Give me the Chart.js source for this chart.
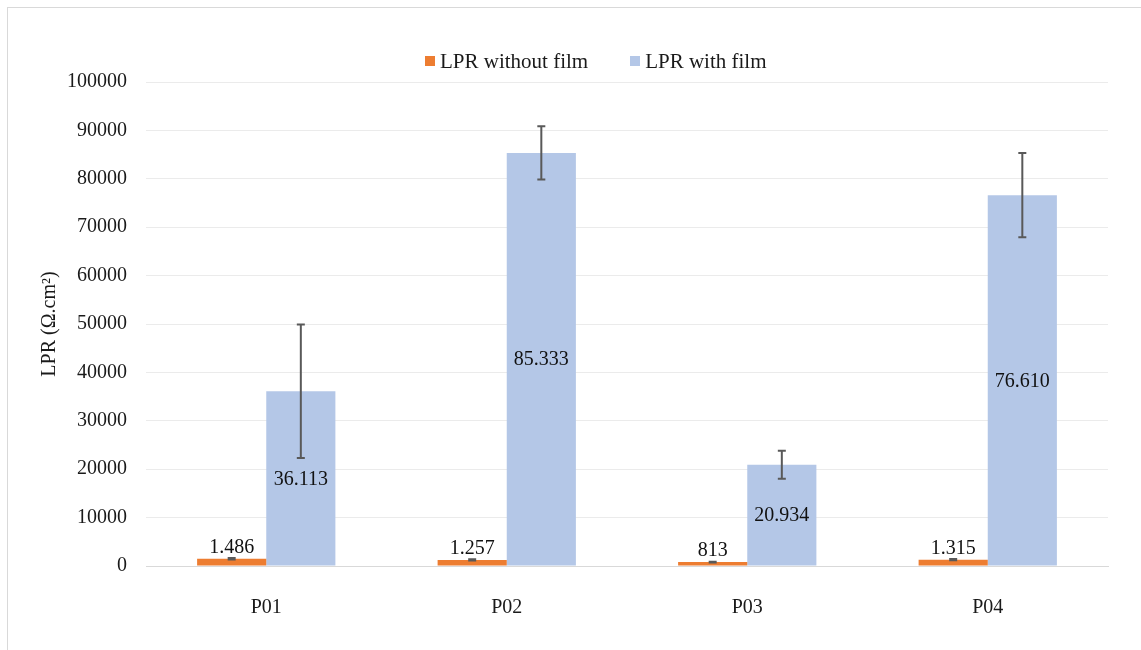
<!DOCTYPE html>
<html>
<head>
<meta charset="utf-8">
<script src="https://cdn.jsdelivr.net/npm/chart.js@4.4.1/dist/chart.umd.min.js"></script>
<style>
  html, body { margin: 0; padding: 0; background: #fff; }
  #wrap { position: relative; width: 1141px; height: 650px; overflow: hidden; }
  #frame { position: absolute; left: 7px; top: 7px; width: 1200px; height: 700px;
           border-top: 1px solid #d9d9d9; border-left: 1px solid #d9d9d9; box-sizing: border-box; }
  canvas { position: absolute; left: 0; top: 0; }
  #legend { position: absolute; left: 425px; top: 48px; height: 26px; display: flex; align-items: center;
            font-family: "Liberation Serif", "Times New Roman", serif; font-size: 21px; color: #1a1a1a;
            white-space: nowrap; }
  #legend .item { display: flex; align-items: center; margin-right: 42px; }
  #legend .box { width: 10px; height: 10px; margin-right: 5px; }
</style>
</head>
<body>
<div id="wrap">
  <div id="frame"></div>
  <canvas id="c" width="1141" height="650"></canvas>
  <div id="legend"></div>
</div>
<script>
const categories = ['P01', 'P02', 'P03', 'P04'];
const seriesNames = ['LPR without film', 'LPR with film'];
const withoutFilm = [1486, 1257, 813, 1315];
const withFilm = [36113, 85333, 20934, 76610];
const withoutFilmErr = [150, 130, 90, 140];
const withFilmErr = [13800, 5500, 2900, 8700];
const yTicks = [0, 10000, 20000, 30000, 40000, 50000, 60000, 70000, 80000, 90000, 100000];
const errors = [withoutFilmErr, withFilmErr];

function fmt(v) {
  return String(Math.round(v)).replace(/\B(?=(\d{3})+(?!\d))/g, '.');
}

const errorBarPlugin = {
  id: 'errorBars',
  afterDatasetsDraw(chart) {
    const ctx = chart.ctx;
    const y = chart.scales.y;
    ctx.save();
    ctx.strokeStyle = '#595959';
    ctx.lineWidth = 2;
    chart.data.datasets.forEach((ds, di) => {
      const meta = chart.getDatasetMeta(di);
      meta.data.forEach((bar, i) => {
        const v = ds.data[i], e = errors[di][i];
        const yt = y.getPixelForValue(v + e);
        const yb = y.getPixelForValue(v - e);
        const x = bar.x;
        ctx.beginPath();
        ctx.moveTo(x, yt); ctx.lineTo(x, yb);
        ctx.moveTo(x - 4, yt); ctx.lineTo(x + 4, yt);
        ctx.moveTo(x - 4, yb); ctx.lineTo(x + 4, yb);
        ctx.stroke();
      });
    });
    ctx.restore();
  }
};

const labelPlugin = {
  id: 'valueLabels',
  afterDraw(chart) {
    const ctx = chart.ctx;
    ctx.save();
    ctx.font = '20px "Liberation Serif", "Times New Roman", serif';
    ctx.fillStyle = '#111111';
    ctx.textAlign = 'center';
    chart.data.datasets.forEach((ds, di) => {
      const meta = chart.getDatasetMeta(di);
      meta.data.forEach((bar, i) => {
        const txt = fmt(ds.data[i]);
        if (di === 0) {
          ctx.textBaseline = 'alphabetic';
          ctx.fillText(txt, bar.x, bar.y - 6);
        } else {
          ctx.textBaseline = 'middle';
          ctx.fillText(txt, bar.x, (bar.y + bar.base) / 2 + 1);
        }
      });
    });
    ctx.restore();
  }
};

const serif = '"Liberation Serif", "Times New Roman", serif';

const chart = new Chart(document.getElementById('c'), {
  type: 'bar',
  data: {
    labels: categories,
    datasets: [
      { label: seriesNames[0], data: withoutFilm, backgroundColor: '#ED7D31' },
      { label: seriesNames[1], data: withFilm, backgroundColor: '#B4C7E7' }
    ]
  },
  options: {
    responsive: false,
    animation: false,
    devicePixelRatio: 1,
    categoryPercentage: 0.575,
    barPercentage: 1.0,
    layout: { padding: { left: 28, right: 33, top: 82, bottom: 0 } },
    plugins: {
      legend: { display: false },
      tooltip: { enabled: false }
    },
    scales: {
      x: {
        afterFit(scale) { scale.height = 650 - 566; },
        grid: { display: false, drawTicks: false },
        border: { display: true, color: '#d9d9d9', width: 1 },
        ticks: { color: '#1a1a1a', font: { family: serif, size: 20 }, padding: 30 }
      },
      y: {
        min: 0, max: 100000,
        afterBuildTicks(scale) { scale.ticks = yTicks.map(v => ({ value: v })); },
        afterFit(scale) { scale.width = 146 - 28; },
        grid: {
          drawTicks: false,
          color: (c) => c.tick && c.tick.value === 0 ? '#d9d9d9' : '#ebebeb',
          lineWidth: 1
        },
        border: { display: false },
        ticks: {
          color: '#1a1a1a', font: { family: serif, size: 20 }, padding: 19,
          callback: (v) => String(v)
        },
        title: {
          display: true, text: 'LPR (Ω.cm²)', color: '#1a1a1a',
          font: { family: serif, size: 20 }, padding: { top: 10, bottom: 0 }
        }
      }
    }
  },
  plugins: [errorBarPlugin, labelPlugin]
});

// Legend built from the chart's own datasets
const legendEl = document.getElementById('legend');
chart.data.datasets.forEach(ds => {
  const item = document.createElement('span');
  item.className = 'item';
  const box = document.createElement('span');
  box.className = 'box';
  box.style.background = ds.backgroundColor;
  const txt = document.createElement('span');
  txt.textContent = ds.label;
  item.appendChild(box);
  item.appendChild(txt);
  legendEl.appendChild(item);
});
</script>
</body>
</html>
